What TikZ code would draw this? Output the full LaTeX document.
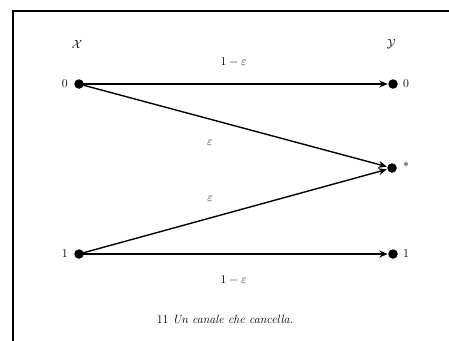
\documentclass[tikz,border=0pt]{standalone}
\usepackage{amsmath}
\usetikzlibrary{arrows.meta,positioning}
\begin{document}
\begin{tikzpicture}[x=1pt,y=-1pt,
  dot/.style={circle,fill=black,inner sep=0pt,minimum size=9.5pt},
  conn/.style={line width=1.4pt,-{Stealth[length=8.5pt,width=7pt]},shorten >=0.3pt},
  lbl/.style={inner sep=0pt,font=\fontsize{13}{15}\selectfont},
  captxt/.style={inner sep=0pt,font=\fontsize{12}{14}\selectfont}]
\useasboundingbox (0,0) rectangle (449,340);
\clip (0,0) rectangle (449,340);
\draw[line width=1.4pt] (13,11) rectangle (470,360);
% sets
\node[lbl] (X) at (77,44) {$\mathcal{X}$};
\node[lbl] (Y) at (391,44) {$\mathcal{Y}$};
% dots
\node[dot] (x0) at (79,84) {};
\node[dot] (x1) at (79,254) {};
\node[dot] (y0) at (393,84) {};
\node[dot] (ye) at (392,168) {};
\node[dot] (y1) at (393,254) {};
% symbol labels
\node[lbl,left=6pt of x0] (lx0) {$0$};
\node[lbl,left=6pt of x1] (lx1) {$1$};
\node[lbl,right=5pt of y0] (ly0) {$0$};
\node[lbl,right=6pt of ye,yshift=3pt] (lye) {$*$};
\node[lbl,right=5pt of y1] (ly1) {$1$};
% connectors
\draw[conn] (x0.center) -- (y0) node[lbl,midway,yshift=22pt] (p00) {$1-\varepsilon$};
\draw[conn] (x0.center) -- (ye) node[lbl,pos=0.425,yshift=-24pt] (p0e) {$\varepsilon$};
\draw[conn] (x1.center) -- (ye) node[lbl,pos=0.425,yshift=19pt] (p1e) {$\varepsilon$};
\draw[conn] (x1.center) -- (y1) node[lbl,midway,yshift=-26pt] (p11) {$1-\varepsilon$};
% caption
\node[captxt] (cap) at (225,319) {11 \textit{Un canale che cancella.}};
\end{tikzpicture}
\end{document}
